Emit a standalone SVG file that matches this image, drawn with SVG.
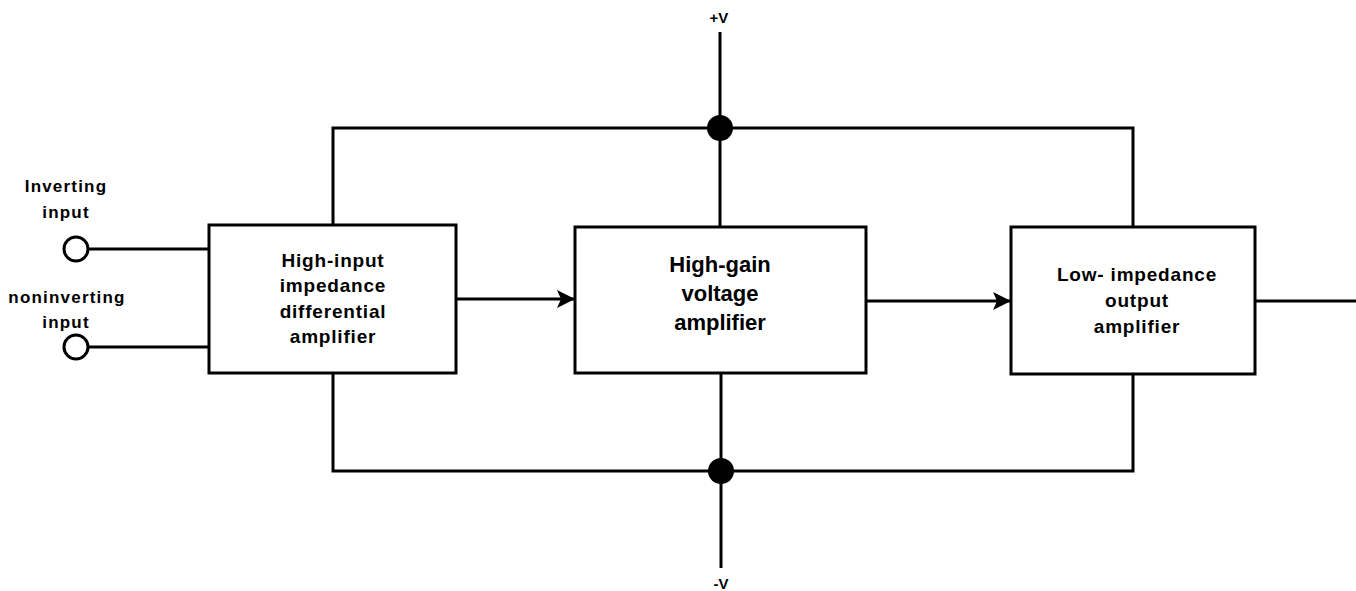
<svg xmlns="http://www.w3.org/2000/svg" width="1356" height="591" viewBox="0 0 1356 591">
<style>
.box{fill:#fff;stroke:#000;stroke-width:3}
.wire{fill:none;stroke:#000;stroke-width:3}
.dot{fill:#000}
.term{fill:#fff;stroke:#000;stroke-width:3}
text{font-family:"Liberation Sans",Arial,sans-serif;font-weight:bold;fill:#000;text-anchor:middle}
.t1{font-size:19px;letter-spacing:0.8px}
.t2{font-size:22px}
.lbl{font-size:17px;letter-spacing:1.2px}
.pw{font-size:15px}
</style>
<defs>
<marker id="arr" markerUnits="userSpaceOnUse" markerWidth="18" markerHeight="18" refX="18" refY="9" orient="auto">
<path d="M0,0 L18,9 L0,18 L4,9 Z" fill="#000"/>
</marker>
</defs>
<rect width="1356" height="591" fill="#fff"/>
<g id="connectors">
<path class="wire" d="M333,225 V128 H1133 V227"/>
<path class="wire" d="M333,373 V471 H1133 V374"/>
<path class="wire" d="M720,32 V227"/>
<path class="wire" d="M721,373 V568"/>
<path class="wire" d="M88,249 H209"/>
<path class="wire" d="M88,347 H209"/>
<path class="wire" d="M456,299 H575" marker-end="url(#arr)"/>
<path class="wire" d="M866,301 H1011" marker-end="url(#arr)"/>
<path class="wire" d="M1255,301 H1356"/>
</g>
<g id="junction-top"><circle class="dot" cx="720" cy="128" r="13"/></g>
<g id="junction-bottom"><circle class="dot" cx="721" cy="471" r="13"/></g>
<g id="label-vplus"><text class="pw" x="719" y="23">+V</text></g>
<g id="label-vminus"><text class="pw" x="721" y="589">-V</text></g>
<g id="inverting-input">
<circle class="term" cx="76" cy="249" r="12"/>
<text class="lbl" x="66" y="192">Inverting</text>
<text class="lbl" x="66" y="218">input</text>
</g>
<g id="noninverting-input">
<circle class="term" cx="76" cy="347" r="12"/>
<text class="lbl" x="67" y="303">noninverting</text>
<text class="lbl" x="66" y="328">input</text>
</g>
<g id="diff-amp">
<rect class="box" x="209" y="225" width="247" height="148"/>
<text class="t1" x="333" y="267">High-input</text>
<text class="t1" x="333" y="292">impedance</text>
<text class="t1" x="333" y="318">differential</text>
<text class="t1" x="333" y="343">amplifier</text>
</g>
<g id="gain-amp">
<rect class="box" x="575" y="227" width="291" height="146"/>
<text class="t2" x="720" y="272">High-gain</text>
<text class="t2" x="720" y="301">voltage</text>
<text class="t2" x="720" y="330">amplifier</text>
</g>
<g id="output-amp">
<rect class="box" x="1011" y="227" width="244" height="147"/>
<text class="t1" x="1137" y="281">Low- impedance</text>
<text class="t1" x="1137" y="307">output</text>
<text class="t1" x="1137" y="333">amplifier</text>
</g>
</svg>
